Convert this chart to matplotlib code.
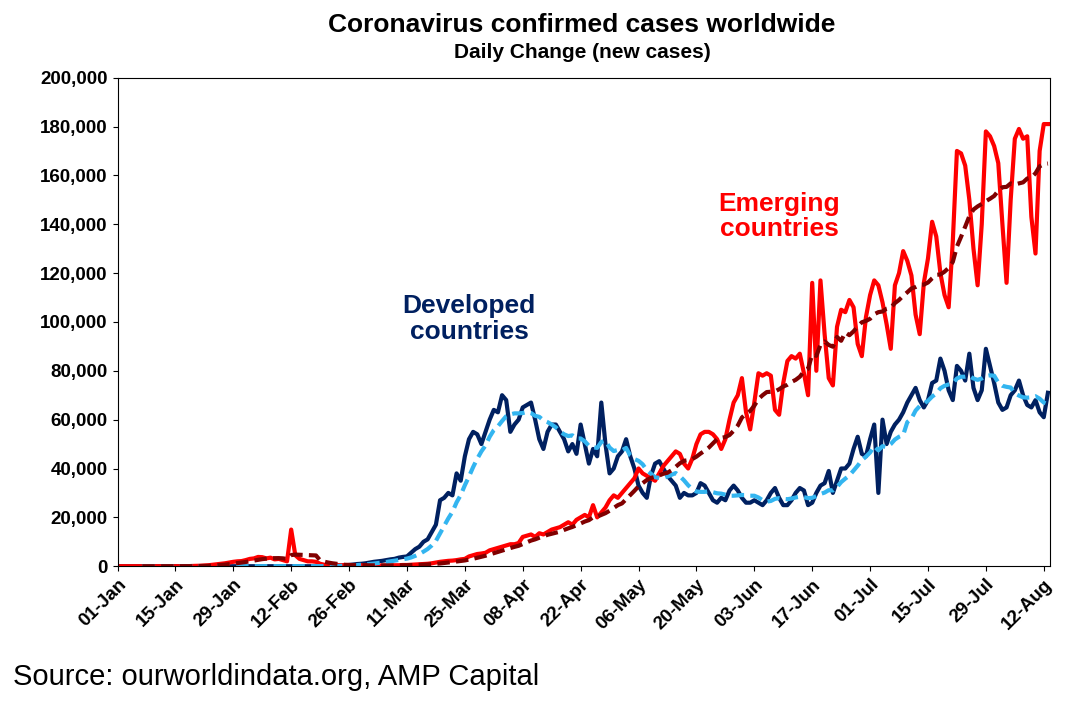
import matplotlib.pyplot as plt
import matplotlib.dates as mdates
import matplotlib.ticker as mticker
import pandas as pd

plt.rcParams['font.family'] = ['Liberation Sans', 'DejaVu Sans']

# daily new cases, one row per week starting 01-Jan
developed = [
  0,0,0,0,0,0,0, 0,0,0,0,0,0,0, 0,0,0,0,0,0,0, 0,0,0,0,0,0,0,
  0,0,0,0,0,0,0, 0,0,0,0,0,0,0, 0,0,0,0,0,0,0, 0,100,100,200,200,300,400,
  500,700,900,1000,1200,1500,1800,
  2000,2200,2500,2800,3000,3500,3800,
  4000,5500,7000,8000,10000,11000,14000,
  17000,27000,28000,30000,29000,38000,35000,
  45000,52000,55000,54000,50000,55000,60000,
  64000,63000,70000,68000,55000,58000,60000,
  65000,66000,67000,60000,52000,48000,55000,
  58000,58000,55000,52000,47000,50000,46000,
  58000,50000,42000,48000,45000,67000,50000,
  38000,40000,45000,47000,52000,45000,40000,
  33000,30000,28000,37000,42000,43000,40000,
  37000,35000,33000,28000,30000,29000,29000,
  30000,34000,33000,30000,27000,26000,28000,
  27000,31000,33000,31000,28000,26000,26000,
  27000,26000,25000,27000,30000,32000,28000,
  25000,25000,27000,30000,32000,31000,25000,
  26000,30000,33000,34000,39000,30000,35000,
  40000,40000,42000,48000,53000,46000,45000,
  52000,58000,30000,60000,50000,55000,58000,
  60000,63000,67000,70000,73000,68000,65000,
  68000,75000,76000,85000,80000,72000,68000,
  82000,80000,76000,87000,73000,68000,72000,
  89000,82000,75000,67000,64000,65000,70000,
  72000,76000,70000,66000,65000,68000,63000,
  61000,71000]

emerging = [
  0,0,0,0,0,0,0, 0,0,0,0,0,0,0, 0,0,0,0,100,150,200,
  300,400,600,800,1000,1200,1500,
  1800,2000,2100,2500,3000,3200,3800,
  3700,3200,3500,2800,3000,2500,2000,
  15000,4500,3000,2500,2000,2000,1800,
  1000,600,500,400,500,400,500,
  500,400,300,400,300,300,300,
  300,300,300,300,400,400,500,
  500,600,700,800,900,1000,1200,
  1500,1800,2000,2200,2300,2500,2800,
  3000,4000,4500,5000,5200,5500,6500,
  7000,7500,8000,8500,9000,9000,9500,
  12000,12500,13000,12000,13500,13000,14000,
  15000,15500,16000,17000,18000,17000,19000,
  20000,21000,20000,25000,20000,22000,24000,
  27000,29000,28000,30000,32000,34000,36000,
  40000,38000,37000,36000,35000,38000,41000,
  43000,45000,47000,46000,42000,40000,44000,
  50000,54000,55000,55000,54000,52000,48000,
  52000,60000,67000,70000,77000,63000,56000,
  67000,79000,78000,79000,78000,64000,62000,
  75000,84000,86000,85000,87000,79000,70000,
  116000,80000,117000,95000,77000,74000,98000,
  105000,104000,109000,106000,91000,86000,102000,
  111000,117000,115000,108000,99000,89000,115000,
  120000,129000,125000,119000,103000,95000,116000,
  126000,141000,135000,120000,111000,106000,133000,
  170000,169000,164000,150000,130000,115000,140000,
  178000,176000,172000,165000,140000,116000,150000,
  175000,179000,175000,176000,143000,128000,170000,
  181000,181000]

dates = pd.date_range("2020-01-01", periods=len(developed), freq="D")
df = pd.DataFrame({"developed": developed, "emerging": emerging[:len(developed)]}, index=dates)
ma = df.rolling(7).mean()

fig = plt.figure(figsize=(10.78, 7.06), dpi=100)
ax = fig.add_axes([0.109, 0.198, 0.865, 0.692])

ax.plot(df.index, df["developed"], color="#002060", lw=3)
ax.plot(df.index, df["emerging"], color="#ff0000", lw=3)
ax.plot(ma.index, ma["developed"], color="#33b5f0", lw=3, ls=(0, (3, 1.5)))
ax.plot(ma.index, ma["emerging"], color="#800000", lw=3, ls=(0, (3, 1.5)))

ax.set_ylim(0, 200000)
ax.set_xlim(dates[0], dates[-1] + pd.Timedelta(days=0.5))
ax.yaxis.set_major_locator(mticker.MultipleLocator(20000))
ax.yaxis.set_major_formatter(mticker.FuncFormatter(lambda v, p: f"{int(v):,}"))
ax.set_xticks(pd.date_range("2020-01-01", "2020-08-12", freq="14D"))
ax.xaxis.set_major_formatter(mdates.DateFormatter("%d-%b"))
for lab in ax.get_xticklabels():
  lab.set_rotation(45)
  lab.set_ha("right")
  lab.set_rotation_mode("anchor")
ax.tick_params(labelsize=13.5)
for lab in ax.get_xticklabels() + ax.get_yticklabels():
  lab.set_fontweight("bold")

ax.text(pd.Timestamp("2020-03-26"), 93000, "Developed\ncountries", color="#002060",
        fontsize=19, fontweight="bold", ha="center", linespacing=1.1)
ax.text(pd.Timestamp("2020-06-09"), 135000, "Emerging\ncountries", color="#ff0000",
        fontsize=19, fontweight="bold", ha="center", linespacing=1.1)

fig.text(0.54, 0.955, "Coronavirus confirmed cases worldwide", ha="center",
         fontsize=19, fontweight="bold")
fig.text(0.54, 0.918, "Daily Change (new cases)", ha="center", fontsize=15, fontweight="bold")
fig.text(0.012, 0.03, "Source: ourworldindata.org, AMP Capital", fontsize=21)

fig.savefig("out.png", dpi=100)
